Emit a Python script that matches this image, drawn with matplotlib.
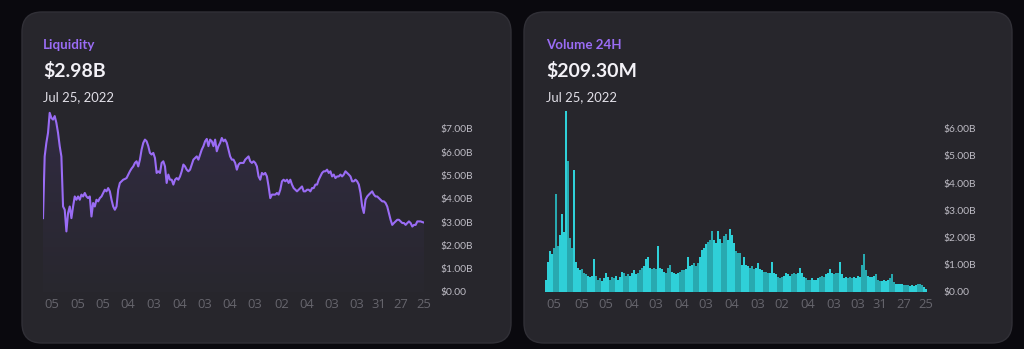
import matplotlib
matplotlib.use("Agg")
import matplotlib.pyplot as plt
import numpy as np
from matplotlib.patches import FancyBboxPatch, Polygon

# Liquidity in $B
liquidity = [
    3.17, 5.82, 6.40, 6.83, 7.69, 7.47, 7.40, 7.55, 7.26, 6.83, 6.26, 5.82, 3.67, 3.53, 2.60,
    3.39, 3.67, 3.17, 3.67, 4.10, 3.96, 4.10, 3.96, 4.18, 4.10, 4.25, 4.10, 4.03, 4.10, 3.24,
    3.82, 3.67, 3.96, 3.89, 4.03, 4.10, 4.25, 4.39, 4.32, 4.46, 4.32, 3.96, 3.67, 3.53, 3.67,
    4.39, 4.68, 4.75, 4.82, 4.85, 4.89, 5.04, 5.18, 5.30, 5.39, 5.54, 5.61, 5.39, 5.68, 6.11,
    6.40, 6.54, 6.47, 6.26, 5.97, 5.90, 5.97, 5.75, 5.11, 5.18, 5.11, 5.54, 5.61, 5.39, 4.68,
    5.04, 4.82, 4.82, 4.61, 4.82, 4.89, 4.82, 4.96, 5.18, 5.47, 5.39, 5.25, 5.18, 5.25, 5.47,
    5.68, 5.75, 5.82, 5.68, 5.90, 6.11, 6.26, 6.47, 6.57, 6.26, 6.54, 6.47, 6.26, 6.54, 6.04,
    6.26, 6.40, 6.61, 6.47, 6.54, 6.40, 6.11, 5.82, 5.68, 5.68, 5.54, 5.25, 5.47, 5.54, 5.54,
    5.54, 5.68, 5.75, 5.82, 5.61, 5.54, 5.61, 5.54, 5.39, 4.96, 4.82, 5.11, 5.04, 5.11, 4.96,
    4.53, 4.03, 4.18, 4.18, 4.18, 4.25, 4.18, 4.39, 4.75, 4.82, 4.75, 4.82, 4.68, 4.82, 4.61,
    4.46, 4.39, 4.32, 4.39, 4.46, 4.53, 4.32, 4.32, 4.39, 4.39, 4.32, 4.46, 4.46, 4.61, 4.61,
    4.82, 4.96, 5.11, 5.18, 5.18, 5.25, 5.11, 5.18, 4.96, 5.04, 4.89, 4.96, 4.96, 5.04, 4.96,
    5.04, 5.18, 5.11, 5.04, 4.96, 4.75, 4.75, 4.82, 4.75, 4.61, 4.25, 3.67, 3.39, 3.96, 4.10,
    4.18, 4.25, 4.32, 4.18, 4.10, 4.10, 4.03, 3.96, 3.89, 3.89, 3.82, 3.67, 3.39, 3.10, 2.88,
    2.96, 3.03, 3.10, 3.10, 3.03, 2.96, 2.96, 2.88, 2.96, 3.03, 2.96, 2.81, 2.88, 2.88, 3.03,
    3.03, 3.03, 3.00, 2.98,
]

# Volume 24H in $B
volume = [
    0.45, 1.1, 1.5, 1.4, 1.6, 3.6, 1.7, 2.1, 2.85, 2.2, 6.67, 4.8, 2.0, 1.6, 4.5,
    1.1, 0.9, 0.8, 0.85, 0.7, 0.65, 0.6, 0.55, 0.6, 1.2, 0.6, 0.45, 0.5, 0.4, 0.5,
    0.7, 0.55, 0.45, 0.55, 0.5, 0.6, 0.45, 0.55, 0.75, 0.7, 0.6, 0.65, 0.6, 0.7, 0.8,
    0.65, 0.7, 0.8, 0.9, 0.95, 1.2, 1.3, 0.9, 0.85, 0.9, 0.85, 1.7, 0.9, 0.85, 0.75,
    0.7, 0.9, 1.0, 0.75, 0.7, 0.65, 0.7, 0.75, 0.8, 0.8, 0.85, 1.3, 0.95, 1.0, 1.05,
    0.95, 1.05, 1.3, 1.55, 1.6, 1.75, 1.85, 1.9, 2.26, 1.9, 1.8, 2.25, 1.95, 1.8, 2.05,
    2.15, 1.9, 2.3, 2.1, 1.8, 1.5, 1.45, 1.45, 1.0, 1.3, 1.0, 0.95, 0.9, 0.95, 0.85,
    0.9, 1.05, 0.85, 0.8, 0.75, 0.75, 0.7, 0.7, 1.1, 0.7, 0.65, 0.55, 0.5, 0.55, 0.6,
    0.7, 0.65, 0.6, 0.65, 0.7, 0.65, 0.7, 0.88, 0.7, 0.55, 0.5, 0.45, 0.45, 0.5, 0.45,
    0.45, 0.5, 0.55, 0.6, 0.55, 0.65, 0.7, 0.85, 0.7, 0.65, 0.7, 0.7, 1.1, 0.65, 0.5,
    0.55, 0.5, 0.55, 0.5, 0.55, 0.5, 0.6, 0.55, 1.0, 1.4, 0.8, 0.6, 0.55, 0.55, 0.6,
    0.65, 0.45, 0.4, 0.4, 0.45, 0.4, 0.45, 0.5, 0.65, 0.35, 0.3, 0.3, 0.28, 0.3, 0.25,
    0.25, 0.25, 0.22, 0.25, 0.22, 0.25, 0.28, 0.3, 0.25, 0.2, 0.12,
]

# x tick labels (day of month) and the sample index they sit at
tick_labels = ['05', '05', '05', '04', '03', '04', '03', '04', '03', '02', '04', '03', '03', '31', '27', '25']
liq_ticks = [5, 21, 36, 51, 66, 82, 97, 112, 127, 143, 158, 173, 188, 201, 214, 228]
vol_ticks = [4, 18, 30, 43, 55, 68, 80, 93, 106, 118, 131, 144, 156, 167, 179, 190]

liq_yticks = [0, 1, 2, 3, 4, 5, 6, 7]
vol_yticks = [0, 1, 2, 3, 4, 5, 6]

BG = '#0a090e'
CARD = '#27262c'
PURPLE = '#9a6cf5'
TEAL = '#2fd0d8'
TEAL_DARK = '#28a9b0'

W, H = 1024, 349
fig = plt.figure(figsize=(W / 100, H / 100), dpi=100, facecolor=BG)
plt.rcParams['font.family'] = ['Lato', 'DejaVu Sans']

# background axes in pixel coords for the cards
bg = fig.add_axes([0, 0, 1, 1])
bg.set_xlim(0, W)
bg.set_ylim(H, 0)
bg.axis('off')
for x0, x1 in [(22, 511), (524, 1012)]:
    bg.add_patch(FancyBboxPatch((x0, 12), x1 - x0, 331, boxstyle='round,pad=0,rounding_size=20',
                                facecolor=CARD, edgecolor='#313037', linewidth=1))


def fmt(v):
    return '$0.00' if v == 0 else '${:.2f}B'.format(v)


def header(x, title, value):
    bg.text(x, 45, title, color=PURPLE, fontsize=9.6, fontweight='bold', va='center')
    bg.text(x, 71, value, color='#f3f1f7', fontsize=14, fontweight='bold', va='center')
    bg.text(x, 97, 'Jul 25, 2022', color='#e2e0e8', fontsize=9.4, va='center')


def px_axes(x0, x1, ytop, ybot):
    return fig.add_axes([x0 / W, (H - ybot) / H, (x1 - x0) / W, (ybot - ytop) / H])


def style(ax, ticks, yticks):
    ax.set_facecolor('none')
    for s in ax.spines.values():
        s.set_visible(False)
    ax.yaxis.tick_right()
    ax.set_yticks(yticks)
    ax.set_yticklabels([fmt(v) for v in yticks])
    ax.set_xticks(ticks)
    ax.set_xticklabels(tick_labels, family=['Open Sans', 'DejaVu Sans'])
    ax.tick_params(axis='y', length=0, pad=11.5, labelsize=7.4, labelcolor='#bdbbc4')
    ax.tick_params(axis='x', length=0, pad=4, labelsize=9.4, labelcolor='#66656d')


header(43, 'Liquidity', '$2.98B')
header(546, 'Volume 24H', '$209.30M')

# Liquidity area chart
ax1 = px_axes(43, 424, 108, 292)
x = np.arange(len(liquidity))
ymax1 = (292 - 108) / 23.3
ax1.set_xlim(0, len(liquidity) - 1)
ax1.set_ylim(0, ymax1)
poly = Polygon(np.column_stack([np.r_[x, x[-1], x[0]], np.r_[liquidity, 0, 0]]),
               closed=True, facecolor='none', edgecolor='none')
ax1.add_patch(poly)
grad = np.linspace(1, 0, 256).reshape(-1, 1)
top = np.array([0x31, 0x2b, 0x42]) / 255
bot = np.array([0x28, 0x27, 0x2e]) / 255
img = top * grad[..., None] + bot * (1 - grad[..., None])
im = ax1.imshow(img, extent=[0, len(liquidity) - 1, 0, 7.7], aspect='auto', origin='upper', zorder=1)
im.set_clip_path(poly)
ax1.plot(x, liquidity, color=PURPLE, linewidth=1.5, zorder=3)
style(ax1, liq_ticks, liq_yticks)

# Volume bar chart
ax2 = px_axes(545, 927, 107, 292)
xb = np.arange(len(volume))
colors = [TEAL if (i * 2 // 7) % 2 == 0 else TEAL_DARK for i in xb]
ax2.bar(xb, volume, width=1.0, color=colors, linewidth=0)
ax2.set_xlim(-0.5, len(volume) - 0.5)
ax2.set_ylim(0, (292 - 107) / 27.2)
style(ax2, vol_ticks, vol_yticks)

fig.savefig('out.png', dpi=100, facecolor=BG)
